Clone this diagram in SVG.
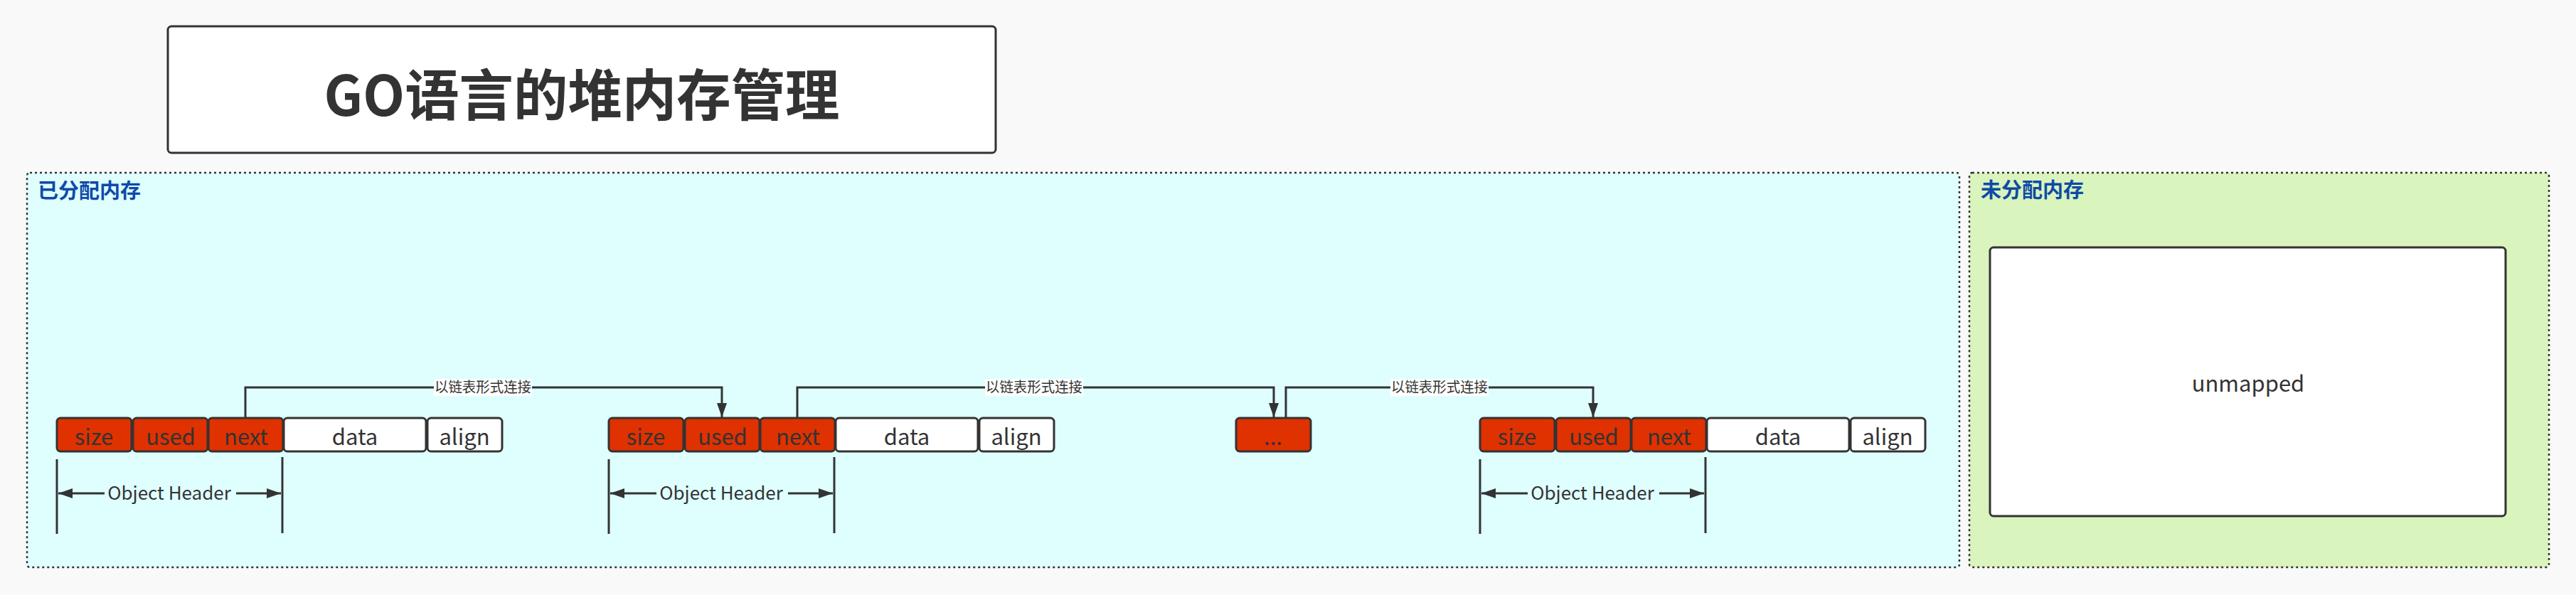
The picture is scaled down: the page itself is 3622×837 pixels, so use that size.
<svg xmlns="http://www.w3.org/2000/svg" width="3622" height="837" viewBox="0 0 3622 837">
<defs>
<style>
.t{font-family:"Noto Sans CJK SC","Noto Sans",sans-serif;fill:#333333}
.red{fill:#e03100;stroke:#333333;stroke-width:3}
.wh{fill:#ffffff;stroke:#333333;stroke-width:3}
.cell{font-size:31px;text-anchor:middle}
.ln{fill:none;stroke:#333333;stroke-width:3}
.lbl{font-size:20px;text-anchor:middle}
.oh{font-size:26px;text-anchor:middle}
.grp{font-size:29px;font-weight:bold;fill:#0f4aa8}
.cont{stroke:#333333;stroke-width:2.5;stroke-dasharray:3 4}
</style>
<marker id="arr" viewBox="0 0 20 14" refX="20" refY="7" markerWidth="20" markerHeight="14" orient="auto" markerUnits="userSpaceOnUse">
<path d="M0,0 L20,7 L0,14 Z" fill="#333333"/>
</marker>
<g id="objcells">
<rect class="red" x="0" y="588" width="105" height="47" rx="5"/>
<rect class="red" x="107" y="588" width="105" height="47" rx="5"/>
<rect class="red" x="213" y="588" width="105" height="47" rx="5"/>
<rect class="wh" x="319" y="588" width="200" height="47" rx="5"/>
<rect class="wh" x="521" y="588" width="105" height="47" rx="5"/>
<text class="t cell" x="52" y="626">size</text>
<text class="t cell" x="160" y="626">used</text>
<text class="t cell" x="266" y="626">next</text>
<text class="t cell" x="419" y="626">data</text>
<text class="t cell" x="573" y="626">align</text>
<line class="ln" x1="0" y1="646" x2="0" y2="751"/>
<line class="ln" x1="317" y1="643" x2="317" y2="750"/>
<line class="ln" x1="67" y1="694" x2="2" y2="694" marker-end="url(#arr)"/>
<line class="ln" x1="252" y1="694" x2="315" y2="694" marker-end="url(#arr)"/>
<text class="t oh" x="158" y="703">Object Header</text>
</g>
</defs>
<rect x="0" y="0" width="3622" height="837" fill="#f9f9f9"/>

<g id="title">
<rect x="236" y="37" width="1164" height="178" rx="5" fill="#ffffff" stroke="#333333" stroke-width="3"/>
<text class="t" x="818" y="163" font-size="78" font-weight="bold" text-anchor="middle" textLength="725" lengthAdjust="spacingAndGlyphs">GO语言的堆内存管理</text>
</g>

<g id="allocated">
<rect class="cont" x="38" y="243" width="2717" height="555" rx="4" fill="#dfffff"/>
<text class="t grp" x="53" y="279">已分配内存</text>
</g>

<g id="unallocated">
<rect class="cont" x="2769" y="243" width="815" height="555" rx="4" fill="#d9f5bd"/>
<text class="t grp" x="2785" y="278">未分配内存</text>
</g>

<g id="unmapped">
<rect x="2798" y="348" width="725" height="378" rx="5" fill="#ffffff" stroke="#333333" stroke-width="3"/>
<text class="t" x="3161" y="551" font-size="31" text-anchor="middle">unmapped</text>
</g>

<g id="object1"><use href="#objcells" x="80" y="0"/></g>
<g id="object2"><use href="#objcells" x="856" y="0"/></g>
<g id="ellipsis">
<rect class="red" x="1738" y="588" width="105" height="47" rx="5"/>
<text class="t cell" x="1790" y="626">...</text>
</g>
<g id="object3"><use href="#objcells" x="2081" y="0"/></g>

<g id="connectors">
<path class="ln" d="M345,588 L345,545 L1015,545 L1015,587" marker-end="url(#arr)"/>
<path class="ln" d="M1121,588 L1121,545 L1791,545 L1791,587" marker-end="url(#arr)"/>
<path class="ln" d="M1808,588 L1808,545 L2240,545 L2240,587" marker-end="url(#arr)"/>
<rect x="610" y="533" width="138" height="24" fill="#ffffff"/>
<text class="t lbl" x="679" y="552" textLength="136" lengthAdjust="spacingAndGlyphs">以链表形式连接</text>
<rect x="1385" y="533" width="138" height="24" fill="#ffffff"/>
<text class="t lbl" x="1454" y="552" textLength="136" lengthAdjust="spacingAndGlyphs">以链表形式连接</text>
<rect x="1955" y="533" width="138" height="24" fill="#ffffff"/>
<text class="t lbl" x="2024" y="552" textLength="136" lengthAdjust="spacingAndGlyphs">以链表形式连接</text>
</g>
</svg>
